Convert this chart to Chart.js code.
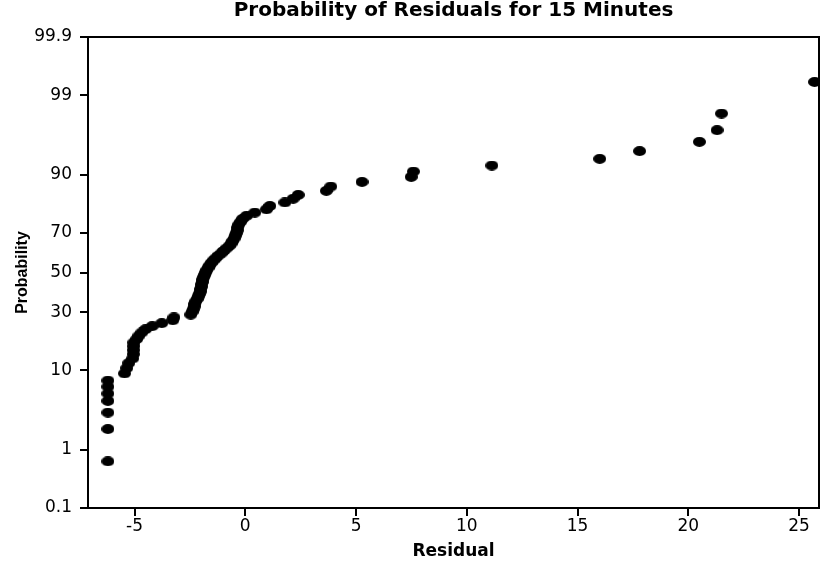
<!DOCTYPE html>
<html>
<head>
<meta charset="utf-8">
<script src="https://cdn.jsdelivr.net/npm/chart.js@4.4.1/dist/chart.umd.min.js"></script>
<style>
  html, body { margin: 0; padding: 0; background: #fff; }
  #wrap { width: 820px; height: 566px; }
</style>
</head>
<body>
<div id="wrap"><canvas id="chart" width="820" height="566"></canvas></div>
<script>
// sorted residuals
const residuals = [
    -6.2, -6.2, -6.2, -6.2, -6.2, -6.2, -6.2, -5.45, -5.35, -5.26,
    -5.08, -5.05, -5.05, -5.04, -5.03, -4.9, -4.8, -4.67, -4.5, -4.2,
    -3.77, -3.27, -3.22, -2.46, -2.4, -2.35, -2.31, -2.28, -2.24, -2.17,
    -2.13, -2.08, -2.04, -2.01, -1.99, -1.97, -1.95, -1.92, -1.88, -1.83,
    -1.79, -1.74, -1.68, -1.61, -1.54, -1.45, -1.34, -1.23, -1.09, -0.98,
    -0.86, -0.73, -0.64, -0.57, -0.5, -0.46, -0.41, -0.37, -0.35, -0.3,
    -0.21, -0.12, 0.06, 0.43, 0.96, 1.11, 1.79, 2.16, 2.39, 3.66,
    3.86, 5.27, 7.49, 7.59, 11.13, 16.0, 17.8, 20.5, 21.3, 21.5,
    25.7
];
// cumulative probability (%) of each point
const probabilities = [
    0.66, 2.0, 3.3, 4.6, 5.6, 6.7, 7.8, 9.26, 10.49, 11.73,
    12.96, 14.20, 15.43, 16.67, 17.90, 19.14, 20.37, 21.60, 22.84, 24.07,
    25.31, 26.54, 27.78, 29.01, 30.25, 31.48, 32.72, 33.95, 35.19, 36.42,
    37.65, 38.89, 40.12, 41.36, 42.59, 43.83, 45.06, 46.30, 47.53, 48.77,
    50.00, 51.23, 52.47, 53.70, 54.94, 56.17, 57.41, 58.64, 59.88, 61.11,
    62.35, 63.58, 64.81, 66.05, 67.28, 68.52, 69.75, 70.99, 72.22, 73.46,
    74.69, 75.93, 77.16, 78.40, 79.63, 80.86, 82.10, 83.33, 84.57, 85.80,
    87.04, 88.27, 89.51, 90.74, 91.98, 93.21, 94.44, 95.68, 96.91, 98.15,
    99.38
];
const xTicks = [-5, 0, 5, 10, 15, 20, 25];
const yTicks = [0.1, 1, 10, 30, 50, 70, 90, 99, 99.9];

// inverse normal CDF (Acklam), used by the probability axis
function probit(p) {
    const a = [-39.69683028665376, 220.9460984245205, -275.9285104469687, 138.3577518672690, -30.66479806614716, 2.506628277459239];
    const b = [-54.47609879822406, 161.5858368580409, -155.6989798598866, 66.80131188771972, -13.28068155288572];
    const c = [-0.007784894002430293, -0.3223964580411365, -2.400758277161838, -2.549732539343734, 4.374664141464968, 2.938163982698783];
    const d = [0.007784695709041462, 0.3224671290700398, 2.445134137142996, 3.754408661907416];
    const pl = 0.02425;
    if (p < pl) {
        const q = Math.sqrt(-2 * Math.log(p));
        return (((((c[0] * q + c[1]) * q + c[2]) * q + c[3]) * q + c[4]) * q + c[5]) / ((((d[0] * q + d[1]) * q + d[2]) * q + d[3]) * q + 1);
    }
    if (p > 1 - pl) {
        const q = Math.sqrt(-2 * Math.log(1 - p));
        return -(((((c[0] * q + c[1]) * q + c[2]) * q + c[3]) * q + c[4]) * q + c[5]) / ((((d[0] * q + d[1]) * q + d[2]) * q + d[3]) * q + 1);
    }
    const q = p - 0.5, r = q * q;
    return (((((a[0] * r + a[1]) * r + a[2]) * r + a[3]) * r + a[4]) * r + a[5]) * q / (((((b[0] * r + b[1]) * r + b[2]) * r + b[3]) * r + b[4]) * r + 1);
}

// normal probability axis
class ProbabilityScale extends Chart.Scale {
    determineDataLimits() {
        this.min = this.options.min;
        this.max = this.options.max;
    }
    buildTicks() {
        return yTicks.map(v => ({ value: v }));
    }
    getLabelForValue(v) {
        return String(v);
    }
    configure() {
        super.configure();
        this._zStart = probit(this.min / 100);
        this._zRange = probit(this.max / 100) - this._zStart;
    }
    getPixelForValue(v) {
        return this.getPixelForDecimal((probit(v / 100) - this._zStart) / this._zRange);
    }
    getValueForPixel() {
        return null;
    }
}
ProbabilityScale.id = 'probability';
ProbabilityScale.defaults = {};
Chart.register(ProbabilityScale);

// oval marker
const dot = document.createElement('canvas');
dot.width = 13;
dot.height = 10;
const dctx = dot.getContext('2d');
dctx.fillStyle = '#000';
dctx.beginPath();
dctx.ellipse(6.5, 5, 6.5, 5, 0, 0, Math.PI * 2);
dctx.fill();

const frame = {
    id: 'frame',
    beforeDatasetsDraw(chart) {
        const { ctx, chartArea: a } = chart;
        ctx.save();
        ctx.strokeStyle = '#000';
        ctx.lineWidth = 2;
        ctx.strokeRect(a.left, a.top, a.right - a.left, a.bottom - a.top);
        ctx.restore();
    }
};

const wide = 'DejaVu Sans, sans-serif';
const narrow = 'Liberation Sans, Arial, sans-serif';
const points = residuals.map((x, i) => ({ x: x, y: probabilities[i] }));

new Chart(document.getElementById('chart'), {
    type: 'scatter',
    data: {
        datasets: [{
            data: points,
            pointStyle: dot,
            clip: false
        }]
    },
    options: {
        responsive: false,
        animation: false,
        events: [],
        layout: { autoPadding: false, padding: { left: 0, right: 1, top: 0, bottom: 0 } },
        plugins: {
            legend: { display: false },
            tooltip: { enabled: false },
            title: {
                display: true,
                fullSize: false,
                text: 'Probability of Residuals for 15 Minutes',
                color: '#000',
                font: { family: wide, size: 20, weight: 'bold' },
                padding: { top: -1, bottom: 14 }
            }
        },
        scales: {
            x: {
                type: 'linear',
                min: -7.1,
                max: 25.9,
                afterBuildTicks: s => { s.ticks = xTicks.map(v => ({ value: v })); },
                afterFit: s => { s.height = 58; s.paddingLeft = 0; s.paddingRight = 0; },
                grid: { drawOnChartArea: false, drawTicks: true, tickLength: 8, color: '#000', lineWidth: 2 },
                border: { color: '#000', width: 2 },
                ticks: { color: '#000', padding: 0, font: { family: wide, size: 17 } },
                title: { display: true, text: 'Residual', color: '#000', font: { family: wide, size: 17, weight: 'bold' }, padding: { top: 3, bottom: 4 } }
            },
            y: {
                type: 'probability',
                position: 'left',
                min: 0.1,
                max: 99.9,
                afterFit: s => { s.width = 88; },
                grid: { drawOnChartArea: false, drawTicks: true, tickLength: 8, color: '#000', lineWidth: 2 },
                border: { color: '#000', width: 2 },
                ticks: { color: '#000', padding: 8, font: { family: wide, size: 17 } },
                title: { display: true, text: 'Probability', color: '#000', font: { family: narrow, size: 16, weight: 'bold' }, padding: { top: 13, bottom: 0 } }
            }
        }
    },
    plugins: [frame]
});
</script>
</body>
</html>
